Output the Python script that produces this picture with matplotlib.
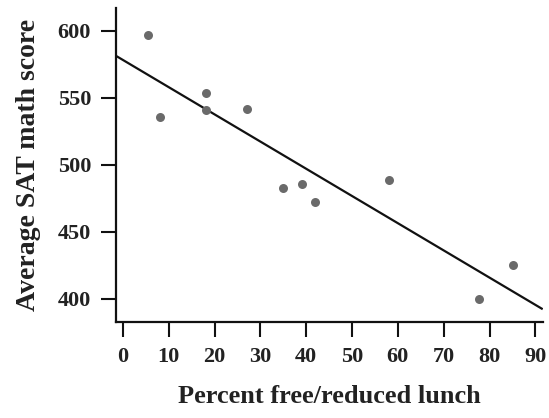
import matplotlib
matplotlib.use("Agg")
import matplotlib.pyplot as plt
import numpy as np

# data
lunch_pct = [5.5, 8.1, 18.1, 18.1, 27.1, 34.9, 39.1, 41.9, 58.0, 77.8, 85.1]
sat_math = [597, 536, 554, 541, 542, 483, 486, 472, 489, 400, 425]
fit_intercept = 578.3
fit_slope = -2.03
x_ticks = [0, 10, 20, 30, 40, 50, 60, 70, 80, 90]
y_ticks = [400, 450, 500, 550, 600]

plt.rcParams['font.family'] = ['Liberation Serif', 'DejaVu Serif']

fig = plt.figure(figsize=(5.49, 4.18), dpi=100)
ax = fig.add_axes([0.2113, 0.2297, 0.778, 0.751])

ax.scatter(lunch_pct, sat_math, s=42, color='#6a6a6a', zorder=3, linewidths=0)

xl = np.array([-1.5, 91.4])
ax.plot(xl, fit_intercept + fit_slope * xl, color='#111111', lw=1.6)

ax.set_xlim(-1.5, 91.7)
ax.set_ylim(382.8, 617)
ax.set_xticks(x_ticks)
ax.set_yticks(y_ticks)

for side in ['top', 'right']:
    ax.spines[side].set_visible(False)
for side in ['left', 'bottom']:
    ax.spines[side].set_linewidth(1.6)
    ax.spines[side].set_color('#111111')

ax.tick_params(direction='out', length=11, width=1.5, color='#111111',
               labelsize=16, labelcolor='#222222')
ax.tick_params(axis='x', pad=7)
ax.tick_params(axis='y', pad=7)
for lab in ax.get_xticklabels() + ax.get_yticklabels():
    lab.set_fontweight('bold')

ax.set_xlabel('Percent free/reduced lunch', fontsize=19, fontweight='bold',
              color='#222222', labelpad=13)
ax.set_ylabel('Average SAT math score', fontsize=20, fontweight='bold',
              color='#222222', labelpad=12)

fig.savefig('out.png', dpi=100)
